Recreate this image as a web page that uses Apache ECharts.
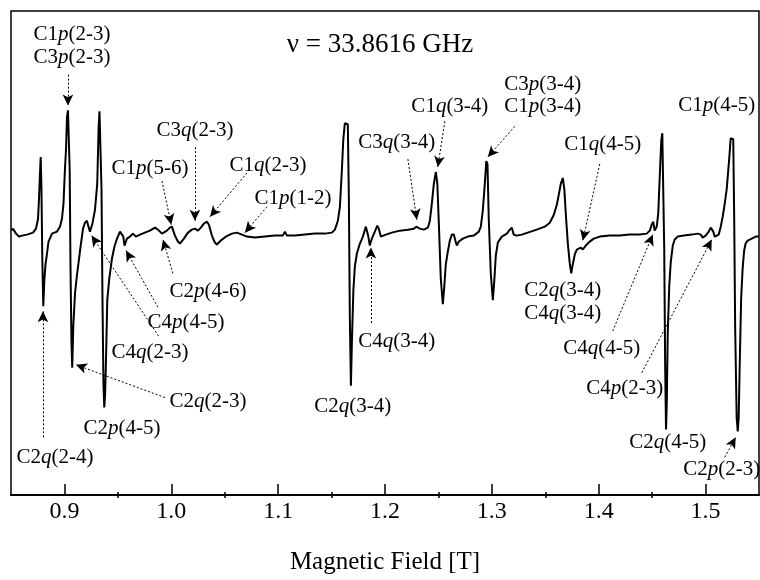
<!DOCTYPE html>
<html>
<head>
<meta charset="utf-8">
<script src="https://cdn.jsdelivr.net/npm/echarts@6/dist/echarts.min.js"></script>
<style>
  html, body { margin: 0; padding: 0; background: #fff; }
  #chart { width: 760px; height: 580px; }
</style>
</head>
<body>
<div id="chart"></div>
<script>
// spectrum: field [T] and signal (arb. units, baseline ~0)
var field = [
  0.8500, 0.8519, 0.8547, 0.8575, 0.8603, 0.8650, 0.8706, 0.8734, 0.8753, 0.8762,
  0.8771, 0.8778, 0.8785, 0.8793, 0.8802, 0.8812, 0.8823, 0.8837, 0.8851, 0.8884,
  0.8930, 0.8958, 0.8977, 0.8991, 0.9005, 0.9015, 0.9024, 0.9033, 0.9043, 0.9049,
  0.9057, 0.9066, 0.9073, 0.9083, 0.9099, 0.9117, 0.9145, 0.9174, 0.9192, 0.9211,
  0.9225, 0.9239, 0.9262, 0.9286, 0.9307, 0.9320, 0.9328, 0.9337, 0.9347, 0.9356,
  0.9365, 0.9373, 0.9381, 0.9389, 0.9401, 0.9420, 0.9445, 0.9468, 0.9492, 0.9520,
  0.9538, 0.9551, 0.9562, 0.9585, 0.9613, 0.9641, 0.9669, 0.9707, 0.9753, 0.9800,
  0.9847, 0.9875, 0.9913, 0.9931, 0.9959, 0.9987, 1.0006, 1.0034, 1.0062, 1.0081,
  1.0118, 1.0156, 1.0193, 1.0221, 1.0249, 1.0277, 1.0305, 1.0334, 1.0352, 1.0380,
  1.0408, 1.0427, 1.0464, 1.0511, 1.0567, 1.0614, 1.0661, 1.0708, 1.0783, 1.0876,
  1.0970, 1.1044, 1.1063, 1.1082, 1.1157, 1.1250, 1.1344, 1.1437, 1.1503, 1.1531,
  1.1559, 1.1578, 1.1596, 1.1610, 1.1624, 1.1638, 1.1652, 1.1662, 1.1671, 1.1681,
  1.1690, 1.1704, 1.1718, 1.1737, 1.1765, 1.1793, 1.1821, 1.1833, 1.1844, 1.1858,
  1.1877, 1.1905, 1.1928, 1.1942, 1.1961, 1.2008, 1.2064, 1.2139, 1.2214, 1.2270,
  1.2293, 1.2307, 1.2326, 1.2363, 1.2401, 1.2420, 1.2438, 1.2457, 1.2476, 1.2490,
  1.2504, 1.2522, 1.2541, 1.2555, 1.2569, 1.2588, 1.2607, 1.2625, 1.2644, 1.2658,
  1.2672, 1.2691, 1.2728, 1.2775, 1.2831, 1.2878, 1.2897, 1.2915, 1.2934, 1.2948,
  1.2959, 1.2971, 1.2990, 1.3009, 1.3023, 1.3037, 1.3056, 1.3093, 1.3140, 1.3168,
  1.3187, 1.3205, 1.3233, 1.3280, 1.3336, 1.3420, 1.3495, 1.3542, 1.3580, 1.3608,
  1.3626, 1.3645, 1.3664, 1.3678, 1.3692, 1.3711, 1.3729, 1.3743, 1.3757, 1.3776,
  1.3795, 1.3813, 1.3832, 1.3851, 1.3879, 1.3916, 1.3954, 1.4010, 1.4103, 1.4197,
  1.4290, 1.4384, 1.4449, 1.4478, 1.4496, 1.4510, 1.4524, 1.4543, 1.4557, 1.4571,
  1.4585, 1.4595, 1.4604, 1.4613, 1.4622, 1.4630, 1.4637, 1.4646, 1.4660, 1.4674,
  1.4693, 1.4711, 1.4739, 1.4796, 1.4871, 1.4927, 1.4955, 1.4973, 1.5001, 1.5029,
  1.5048, 1.5058, 1.5072, 1.5086, 1.5104, 1.5123, 1.5142, 1.5160, 1.5179, 1.5198,
  1.5221, 1.5235, 1.5249, 1.5259, 1.5268, 1.5277, 1.5291, 1.5301, 1.5310, 1.5319,
  1.5333, 1.5347, 1.5361, 1.5375, 1.5394, 1.5432, 1.5469, 1.5500
];
var signal = [
     1,    3,   -2,   -5,   -4,   -3,   -1,    3,   13,   33,
    58,   75,   43,  -27,  -75,  -49,  -33,  -22,  -10,   -2,
     0,    5,   13,   28,   63,   83,  115,  122,  120,   63,
   -37, -112, -137,  -95,  -62,  -44,  -20,    3,    9,   11,
     5,    0,    8,   22,   48,  105,  121,  119,   43,  -67,
  -152, -177, -162, -129,  -69,  -47,  -27,  -15,   -7,    0,
     2,   -5,  -14,   -7,   -5,   -2,   -5,   -3,   -1,    1,
     4,    2,   -2,   -4,    1,    4,    5,   -4,  -10,  -12,
    -7,   -1,    2,    3,    1,    4,    8,   10,    7,   -4,
   -11,  -13,   -9,   -5,   -2,   -1,   -3,   -5,   -6,   -5,
    -4,   -4,    0,   -4,   -4,   -3,   -2,   -2,   -1,    2,
    11,   25,   61,   93,  109,  111,  108,   33,  -87, -155,
  -112,  -59,  -35,  -22,  -12,   -5,    5,    6,   -5,  -14,
    -7,    0,    6,    3,   -5,   -3,   -1,    1,    2,    3,
     5,    7,    3,    2,    4,   11,   28,   48,   60,   48,
     8,  -47,  -73,  -55,  -33,  -20,   -9,   -3,   -3,   -9,
   -14,  -10,   -7,   -5,   -4,    0,    5,   21,   48,   71,
    68,   13,  -42,  -69,  -49,  -24,  -11,   -5,   -2,    2,
     4,   -3,   -4,   -3,   -1,    2,    5,    9,   17,   27,
    37,   48,   54,   43,   18,  -12,  -32,  -42,  -33,  -23,
   -18,  -16,  -16,  -18,  -14,  -10,   -7,   -5,   -4,   -4,
    -3,   -3,   -2,    1,    7,   10,    1,    5,   18,   55,
    91,   99,   97,  -17, -137, -199, -172, -102,  -55,  -31,
   -14,   -8,   -5,   -4,   -3,   -2,   -3,   -6,   -4,    0,
     4,    6,    0,   -5,   -5,   -3,    5,   15,   28,   43,
    73,   94,   96,   93,   13,  -97, -187, -201, -187, -137,
   -67,  -37,  -19,  -12,   -9,   -7,   -5,   -5
];

var majorTicks = [0.9, 1.0, 1.1, 1.2, 1.3, 1.4, 1.5];
var minorTicks = [0.95, 1.05, 1.15, 1.25, 1.35, 1.45];

// line assignments and where their labels sit (field, signal)
var labelText = [
  'C1p(2-3)', 'C3p(2-3)', 'C3q(2-3)', 'C1p(5-6)', 'C1q(2-3)', 'C1p(1-2)',
  'C2p(4-6)', 'C4p(4-5)', 'C4q(2-3)', 'C2q(2-3)', 'C2p(4-5)', 'C2q(2-4)',
  'C2q(3-4)', 'C4q(3-4)', 'C3q(3-4)', 'C1q(3-4)', 'C3p(3-4)', 'C1p(3-4)',
  'C1q(4-5)', 'C1p(4-5)', 'C2q(3-4)', 'C4q(3-4)', 'C4q(4-5)', 'C4p(2-3)',
  'C2q(4-5)', 'C2p(2-3)'
];
var labelField = [
  0.9071, 0.9071, 1.0221, 0.9800, 1.0904, 1.1138,
  1.0343, 1.0137, 0.9800, 1.0343, 0.9538, 0.8912,
  1.1699, 1.2111, 1.2111, 1.2607, 1.3477, 1.3477,
  1.4038, 1.5104, 1.3664, 1.3664, 1.4029, 1.4244,
  1.4646, 1.5151
];
var labelSignal = [
  198, 175, 102, 64, 67, 33,
  -60, -91, -122, -171, -198, -227,
  -176, -111, 90, 126, 148, 126,
  88, 127, -59, -82, -118, -158,
  -212, -239
];

// dotted arrows: tail -> head
var arrowFrom = [
  [0.9033, 158], [1.0221, 85], [0.9913, 51], [1.0708, 59], [1.0895, 25],
  [1.0015, -42], [0.9875, -76], [0.9881, -105], [0.9941, -167], [0.8799, -207],
  [1.1868, -92], [1.2214, 73], [1.2560, 111], [1.3215, 106], [1.4010, 68],
  [1.4131, -100], [1.4403, -142], [1.5179, -227]
];
var arrowTo = [
  [0.9033, 127], [1.0221, 11], [1.0000, 7], [1.0362, 15], [1.0689, -1],
  [0.9922, -8], [0.9576, -19], [0.9254, -4], [0.9108, -134], [0.8799, -80],
  [1.1868, -16], [1.2298, 12], [1.2494, 65], [1.2962, 75], [1.3851, -9],
  [1.4506, -3], [1.5058, -8], [1.5282, -207]
];

var serif = 'Liberation Serif';

function richLabel(s) {
  // C1p(2-3) -> p italic
  var m = s.match(/^(C\d)([pq])(.*)$/);
  return '{r|' + m[1] + '}{i|' + m[2] + '}{r|' + m[3] + '}';
}

var chart = echarts.init(document.getElementById('chart'), null, { renderer: 'canvas' });

var gridBox = { left: 11, right: 1, top: 11, bottom: 82 };

var option = {
  backgroundColor: '#fff',
  animation: false,
  title: {
    text: 'ν = 33.8616 GHz',
    left: 'center',
    top: 26,
    textStyle: { fontFamily: serif, fontSize: 27, fontWeight: 'normal', color: '#000' }
  },
  grid: [
    Object.assign({ show: true, borderColor: '#000', borderWidth: 1.5 }, gridBox),
    // same box again, only carries the short half-way ticks
    Object.assign({ show: false }, gridBox)
  ],
  xAxis: [
    {
      type: 'value',
      gridIndex: 0,
      min: 0.85,
      max: 1.55,
      position: 'bottom',
      name: 'Magnetic Field [T]',
      nameLocation: 'middle',
      nameGap: 55,
      nameTextStyle: { fontFamily: serif, fontSize: 25, color: '#000' },
      axisLine: { onZero: false, lineStyle: { color: '#000', width: 2 } },
      axisTick: { inside: true, length: 11, customValues: majorTicks, lineStyle: { color: '#000', width: 1.5 } },
      axisLabel: {
        customValues: majorTicks,
        formatter: function (v) { return v.toFixed(1); },
        fontFamily: serif, fontSize: 24, color: '#000', margin: 5
      },
      splitLine: { show: false }
    },
    {
      type: 'value',
      gridIndex: 1,
      min: 0.85,
      max: 1.55,
      position: 'bottom',
      axisLine: { show: false, onZero: false },
      axisTick: { show: true, inside: true, length: 6, customValues: minorTicks, lineStyle: { color: '#000', width: 1.5 } },
      axisLabel: { show: false },
      splitLine: { show: false }
    }
  ],
  yAxis: [
    { type: 'value', gridIndex: 0, min: -265, max: 222, show: false },
    { type: 'value', gridIndex: 1, min: -265, max: 222, show: false }
  ],
  series: [
    {
      name: 'spectrum',
      type: 'line',
      xAxisIndex: 0,
      yAxisIndex: 0,
      data: field.map(function (b, i) { return [b, signal[i]]; }),
      showSymbol: false,
      symbol: 'none',
      lineStyle: { color: '#000', width: 2 },
      silent: true,
      markLine: {
        silent: true,
        symbol: ['none', 'arrow'],
        symbolSize: [8, 11],
        label: { show: false },
        lineStyle: { color: '#000', width: 1, type: [2, 2] },
        emphasis: { disabled: true },
        data: arrowFrom.map(function (p, i) {
          return [{ coord: p }, { coord: arrowTo[i] }];
        })
      }
    },
    {
      name: 'labels',
      type: 'scatter',
      xAxisIndex: 0,
      yAxisIndex: 0,
      symbolSize: 0,
      silent: true,
      itemStyle: { color: '#000', opacity: 1 },
      data: labelText.map(function (t, i) {
        return { name: t, value: [labelField[i], labelSignal[i]] };
      }),
      label: {
        show: true,
        position: 'inside',
        color: '#000',
        textBorderWidth: 0,
        formatter: function (p) { return richLabel(p.name); },
        rich: {
          r: { fontFamily: serif, fontSize: 21, color: '#000', textBorderWidth: 0 },
          i: { fontFamily: serif, fontSize: 21, color: '#000', fontStyle: 'italic', textBorderWidth: 0 }
        }
      }
    }
  ]
};

chart.setOption(option);
</script>
</body>
</html>
